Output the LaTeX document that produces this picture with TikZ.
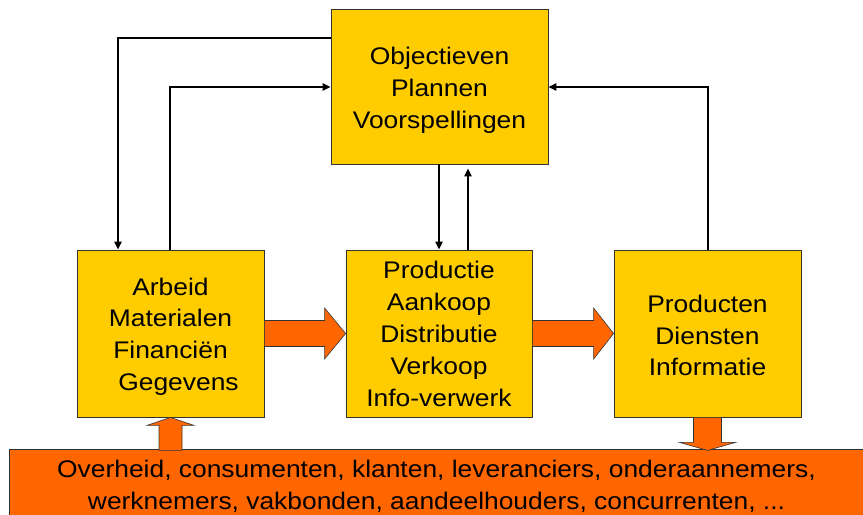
\documentclass[tikz,border=0pt]{standalone}
\usepackage{fontspec}
\setmainfont[FakeStretch=1.1]{Liberation Sans}
\usetikzlibrary{arrows.meta,calc}

\definecolor{boxyellow}{HTML}{FFCC00}
\definecolor{flow}{HTML}{FF6600}
\definecolor{edge}{HTML}{333333}

\tikzset{
  block/.style={draw=edge, line width=0.8bp, fill=boxyellow, inner sep=0pt},
  txt/.style={align=center, inner sep=0pt, font=\fontsize{24bp}{31.8bp}\selectfont},
  conn/.style={line width=2bp, -{Triangle[length=8bp,width=7bp]}},
  fat/.style={draw=edge, line width=0.6bp, fill=flow, line join=miter},
}

\begin{document}
\begin{tikzpicture}[x=1bp,y=-1bp]
\useasboundingbox (0,0) rectangle (863,515);

% boxes
\node[block, minimum width=217bp, minimum height=155bp] (T) at (439.5,86.5) {};
\node[block, minimum width=187bp, minimum height=167bp] (L) at (170.5,333.5) {};
\node[block, minimum width=186bp, minimum height=167bp] (M) at (439,333.5) {};
\node[block, minimum width=187bp, minimum height=167bp] (R) at (707.5,333.5) {};

% box texts
\node[txt] (Tt) at ($(T.center)+(0,4)$) {Objectieven\\Plannen\\Voorspellingen};
\node[txt] (Lt) at ($(L.center)+(0,3)$) {Arbeid\\Materialen\\Financiën\\\hspace*{16bp}Gegevens};
\node[txt] (Mt) at ($(M.center)+(0,0.5)$) {Productie\\Aankoop\\Distributie\\Verkoop\\Info-verwerk};
\node[txt] (Rt) at ($(R.center)+(0,2)$) {Producten\\Diensten\\Informatie};

% environment bar along the bottom
\node[fill=flow, inner sep=0pt, minimum width=853bp, minimum height=65bp] (B) at (436.5,482.5) {};
\draw[edge, line width=0.8bp] (B.south west) -- (B.north west) -- (B.north east);
\node[txt] (BT) at (436.5,486)
  {Overheid, consumenten, klanten, leveranciers, onderaannemers,\\
   werknemers, vakbonden, aandeelhouders, concurrenten, ...};

% feedback connectors, on whole-unit rows and columns
\coordinate (lk) at (118,38);
\coordinate (rk) at (170,87);
\coordinate (ek) at (708,87);
\coordinate (dk) at (439,0);
\coordinate (uk) at (468,0);
\draw[conn] (lk -| T.west) -| (L.north -| lk);
\draw[conn] (L.north -| rk) |- (T.west |- rk);
\draw[conn] (R.north -| ek) |- (T.east |- ek);
\draw[conn] (T.south -| dk) -- (M.north -| dk);
\draw[conn, shorten >=4bp] (M.north -| uk) -- (T.south -| uk);

% wide flow arrows
\draw[fat] ($(L.east)+(0,-13)$) -- ($(M.west)+(-21,-13)$) -- ($(M.west)+(-21,-25.5)$)
  -- (M.west) -- ($(M.west)+(-21,25.5)$) -- ($(M.west)+(-21,13)$) -- ($(L.east)+(0,13)$) -- cycle;
\draw[fat] ($(M.east)+(0,-13)$) -- ($(R.west)+(-20,-13)$) -- ($(R.west)+(-20,-25.5)$)
  -- (R.west) -- ($(R.west)+(-20,25.5)$) -- ($(R.west)+(-20,13)$) -- ($(M.east)+(0,13)$) -- cycle;
\draw[fat] ($(L.south)+(-11.5,33)$) -- ($(L.south)+(-11.5,8)$) -- ($(L.south)+(-23.5,8)$)
  -- (L.south) -- ($(L.south)+(23.5,8)$) -- ($(L.south)+(11.5,8)$) -- ($(L.south)+(11.5,33)$) -- cycle;
\draw[fat] ($(R.south)+(-14,0)$) -- ($(R.south)+(-14,25)$) -- ($(R.south)+(-28,25)$)
  -- ($(R.south)+(0,33)$) -- ($(R.south)+(28,25)$) -- ($(R.south)+(14,25)$) -- ($(R.south)+(14,0)$) -- cycle;
\end{tikzpicture}
\end{document}
